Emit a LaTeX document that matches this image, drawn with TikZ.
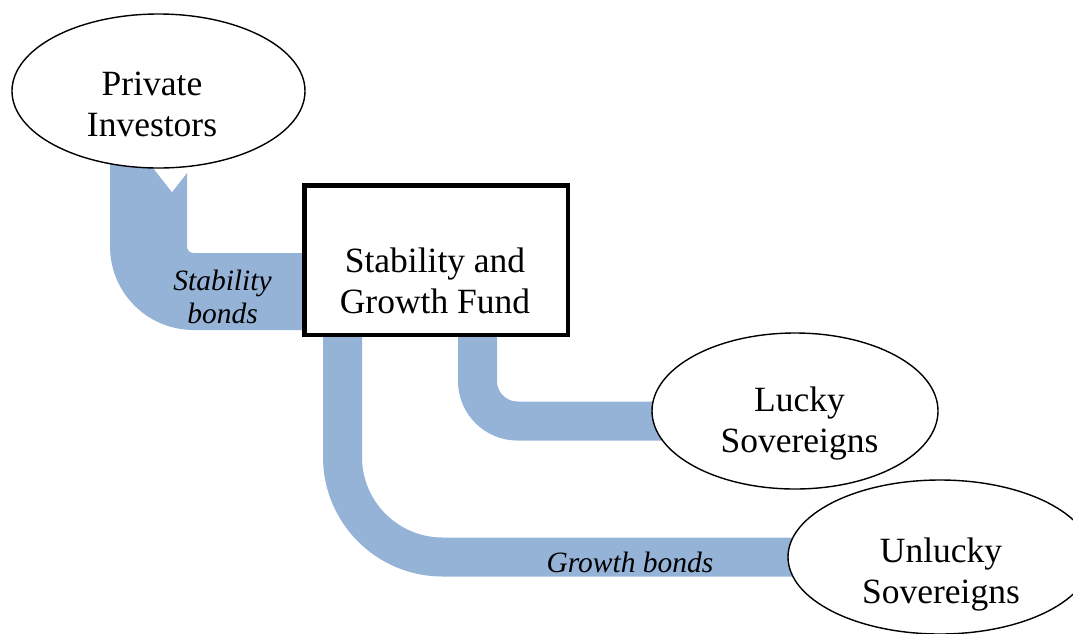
\documentclass[tikz,border=0pt]{standalone}
\usepackage{fontspec}
\setmainfont{Liberation Serif}
\usetikzlibrary{shapes.geometric}
\definecolor{bandblue}{RGB}{149,179,215}
\pgfdeclarelayer{background}
\pgfsetlayers{background,main}
\begin{document}
\begin{tikzpicture}[x=1pt,y=-1pt,
  band/.style={draw=bandblue, line width=#1},
  oval/.style={ellipse, draw=black, fill=white, line width=1.4pt, inner sep=0pt},
  fundbox/.style={rectangle, draw=black, fill=white, line width=4.5pt, inner sep=0pt},
  bigtxt/.style={font=\fontsize{35.5}{41}\selectfont, align=center, inner sep=0pt},
  itxt/.style={font=\fontsize{29.5}{33}\selectfont\itshape, align=center, inner sep=0pt}]
\useasboundingbox (0,0) rectangle (1073,633);

% shapes
\node[oval, minimum width=293pt, minimum height=154pt] (PI) at (158.5,91) {};
\node[fundbox, minimum width=263.5pt, minimum height=149.5pt] (SGF) at (436,260) {};
\node[oval, minimum width=286pt, minimum height=156pt] (LS) at (795,411) {};
\node[oval, minimum width=304pt, minimum height=154pt] (US) at (940,557) {};

% texts
\node[bigtxt] (PItext) at (152,104.4) {Private\\Investors};
\node[bigtxt] (SGFtext) at (435,280.4) {Stability and\\Growth Fund};
\node[bigtxt] (LStext) at (799.5,423.7) {Lucky\\Sovereigns};
\node[bigtxt] (UStext) at (941,574.3) {Unlucky\\Sovereigns};

% bands
\begin{pgfonlayer}{background}
  \draw[band=77pt, rounded corners=45pt] ([xshift=-10pt]PI.center) |- ([yshift=-31.5pt]SGF.center);
  \draw[band=39pt, rounded corners=100pt] ([xshift=-93.5pt]SGF.center) |- (US.center);
  \draw[band=39pt, rounded corners=40pt] ([xshift=41.5pt]SGF.center) |- ([yshift=-10pt]LS.center);
  \fill[white] (150,164) -- (194,164) -- (172,192) -- cycle;
\end{pgfonlayer}

% band labels
\node[itxt] (SBlabel) at (222.5,296.5) {Stability\\bonds};
\node[itxt, anchor=base] (GBlabel) at (630,572) {Growth bonds};
\end{tikzpicture}
\end{document}
